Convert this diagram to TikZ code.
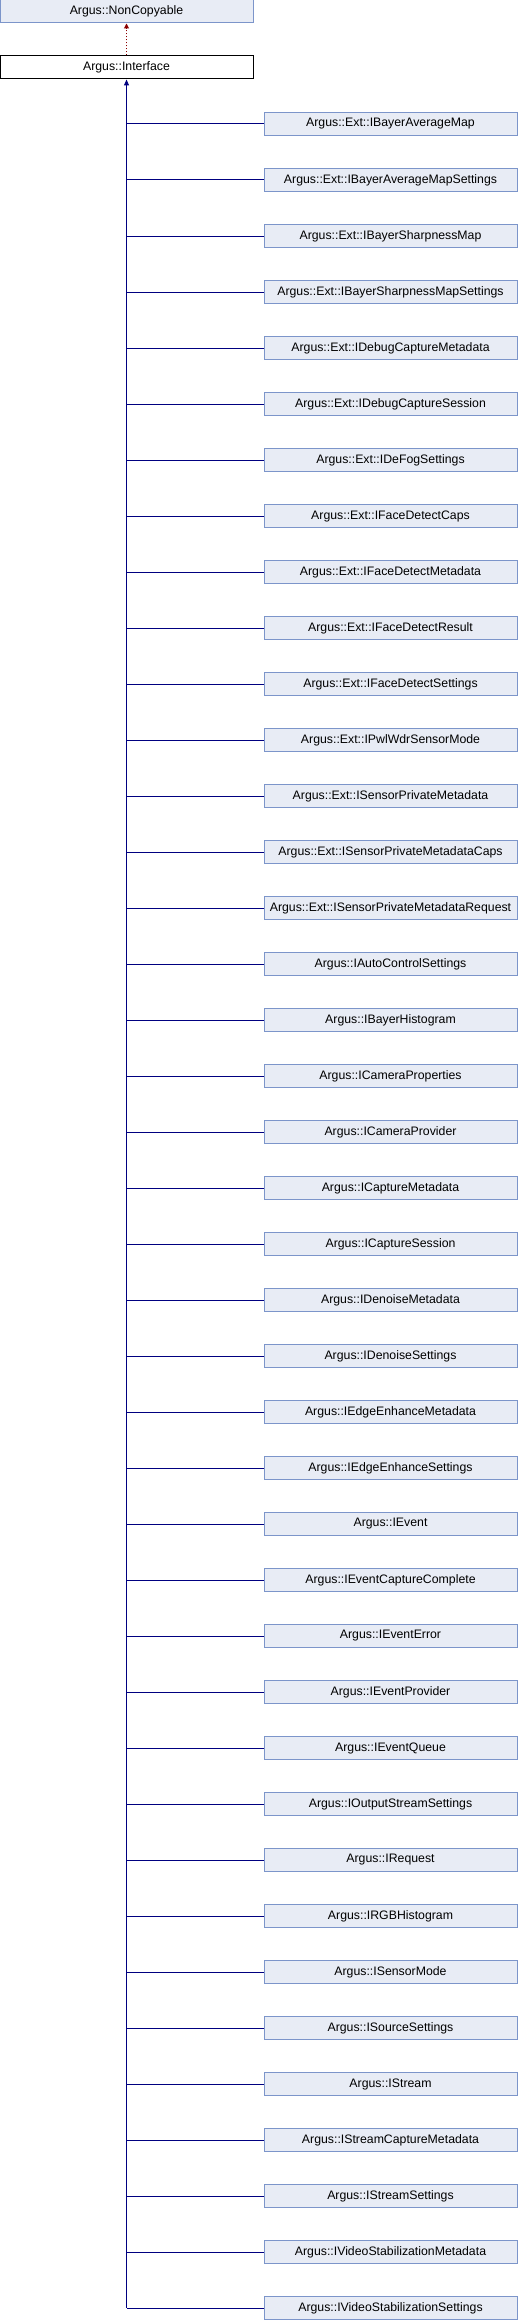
\documentclass[tikz,border=0pt]{standalone}
\usepackage{fontspec}
\setmainfont{Liberation Sans}
\usetikzlibrary{arrows.meta}
\definecolor{boxfill}{HTML}{E8ECF5}
\definecolor{boxdraw}{HTML}{7C95CA}
\definecolor{navyline}{HTML}{000080}
\definecolor{redline}{HTML}{8B0000}
\begin{document}
\begin{tikzpicture}[x=1pt,y=-1pt,
  cls/.style={draw=boxdraw,fill=boxfill,line width=1pt,minimum width=253pt,minimum height=23pt,inner sep=0pt,font=\fontsize{12.3}{14}\selectfont},
  mainbox/.style={cls,draw=black,fill=white},
  inh/.style={draw=navyline,line width=1pt},
  useline/.style={draw=redline,line width=1pt,dotted}]
\useasboundingbox (0,0) rectangle (518,2320);
\node[cls] (nc) at (126.5,11.5) {Argus::NonCopyable};
\node[mainbox] (iface) at (126.5,67.5) {Argus::Interface};
\draw[useline,-{Triangle[length=5pt,width=5pt,fill=redline]}] (iface.north) -- (nc.south);
\foreach \t [count=\i] in {
Argus::Ext::IBayerAverageMap,
Argus::Ext::IBayerAverageMapSettings,
Argus::Ext::IBayerSharpnessMap,
Argus::Ext::IBayerSharpnessMapSettings,
Argus::Ext::IDebugCaptureMetadata,
Argus::Ext::IDebugCaptureSession,
Argus::Ext::IDeFogSettings,
Argus::Ext::IFaceDetectCaps,
Argus::Ext::IFaceDetectMetadata,
Argus::Ext::IFaceDetectResult,
Argus::Ext::IFaceDetectSettings,
Argus::Ext::IPwlWdrSensorMode,
Argus::Ext::ISensorPrivateMetadata,
Argus::Ext::ISensorPrivateMetadataCaps,
Argus::Ext::ISensorPrivateMetadataRequest,
Argus::IAutoControlSettings,
Argus::IBayerHistogram,
Argus::ICameraProperties,
Argus::ICameraProvider,
Argus::ICaptureMetadata,
Argus::ICaptureSession,
Argus::IDenoiseMetadata,
Argus::IDenoiseSettings,
Argus::IEdgeEnhanceMetadata,
Argus::IEdgeEnhanceSettings,
Argus::IEvent,
Argus::IEventCaptureComplete,
Argus::IEventError,
Argus::IEventProvider,
Argus::IEventQueue,
Argus::IOutputStreamSettings,
Argus::IRequest,
Argus::IRGBHistogram,
Argus::ISensorMode,
Argus::ISourceSettings,
Argus::IStream,
Argus::IStreamCaptureMetadata,
Argus::IStreamSettings,
Argus::IVideoStabilizationMetadata,
Argus::IVideoStabilizationSettings}{
  \node[cls] (c\i) at (390.5,{124+56*(\i-1)}) {\t};
  \draw[inh] (c\i.west) -- (c\i.west -| iface.south);
}
\draw[inh,-{Triangle[length=6pt,width=5pt]}] (c40.west -| iface.south) -- (iface.south);
\end{tikzpicture}
\end{document}
